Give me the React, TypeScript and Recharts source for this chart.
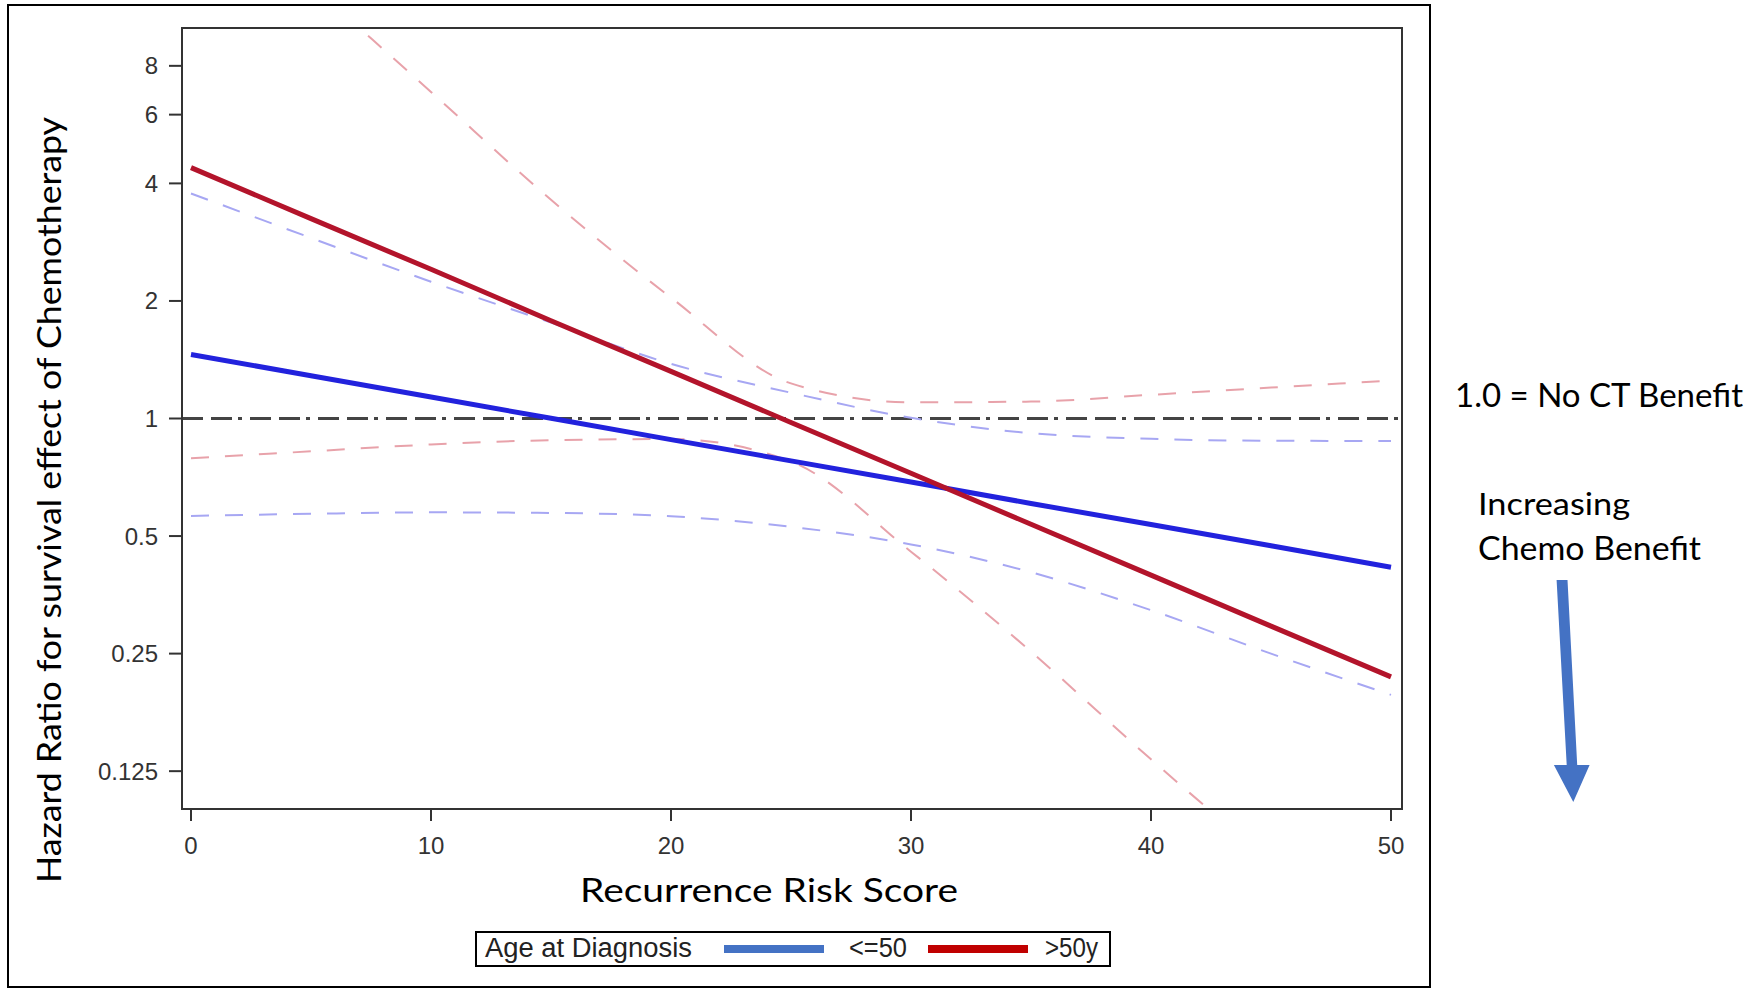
import { Legend, Line, LineChart, ReferenceLine, XAxis, YAxis } from "recharts";

// recurrence score at which each curve was read
const scores = [0, 5, 10, 15, 20, 25, 30, 35, 40, 45, 50];

// hazard ratios, age <= 50
const youngHR = [1.459, 1.287, 1.135, 1.001, 0.883, 0.779, 0.688, 0.606, 0.535, 0.472, 0.416];
const youngUpper = [3.77, 2.9, 2.24, 1.76, 1.38, 1.164, 1.004, 0.917, 0.887, 0.877, 0.876];
const youngLower = [0.563, 0.57, 0.575, 0.573, 0.562, 0.528, 0.476, 0.404, 0.323, 0.25, 0.196];

// hazard ratios, age > 50
const olderHR = [4.39, 3.25, 2.41, 1.78, 1.32, 0.977, 0.724, 0.536, 0.397, 0.294, 0.218];
const olderUpper = [24.4, 12.9, 6.86, 3.63, 2.04, 1.23, 1.1, 1.105, 1.15, 1.2, 1.25];
const olderLower = [0.791, 0.824, 0.858, 0.88, 0.886, 0.776, 0.456, 0.253, 0.134, 0.073, 0.04];

const xTicks = [0, 10, 20, 30, 40, 50];
const yTicks = [0.125, 0.25, 0.5, 1, 2, 4, 6, 8];

const groupNames = ["<=50", ">50y"];
const lineColors = ["#2222DD", "#B3142B"];
const ciColors = ["#A7A7F3", "#E8A2AA"];
const legendColors = ["#4472C4", "#C00000"];

const data = scores.map((score, i) => ({
  score,
  youngHR: youngHR[i],
  youngUpper: youngUpper[i],
  youngLower: youngLower[i],
  olderHR: olderHR[i],
  olderUpper: olderUpper[i],
  olderLower: olderLower[i],
}));

const sasFont = "'Liberation Sans', Arial, sans-serif";
const slideFont = "Lato, 'Open Sans', sans-serif";
const axisStroke = { stroke: "#333", strokeWidth: 2 };

function AgeLegend() {
  return (
    <svg width={636} height={36} style={{ display: "block" }}>
      <rect x={1} y={1} width={634} height={34} fill="#fff" stroke="#000" strokeWidth={2} />
      <text x={10} y={26} fontFamily={sasFont} fontSize={27} fill="#222" textLength={207} lengthAdjust="spacingAndGlyphs">
        Age at Diagnosis
      </text>
      <line x1={249} x2={349} y1={18} y2={18} stroke={legendColors[0]} strokeWidth={8} />
      <text x={374} y={26} fontFamily={sasFont} fontSize={27} fill="#222" textLength={58} lengthAdjust="spacingAndGlyphs">
        {groupNames[0]}
      </text>
      <line x1={453} x2={553} y1={18} y2={18} stroke={legendColors[1]} strokeWidth={8} />
      <text x={570} y={26} fontFamily={sasFont} fontSize={27} fill="#222" textLength={53} lengthAdjust="spacingAndGlyphs">
        {groupNames[1]}
      </text>
    </svg>
  );
}

export default function App() {
  return (
    <div style={{ position: "absolute", left: 0, top: 0, width: 1759, height: 988, background: "#fff" }}>
      <LineChart width={1440} height={988} data={data} margin={{ top: 28, right: 38, left: 0, bottom: 119 }}>
        <XAxis
          dataKey="score"
          type="number"
          domain={[0, 50]}
          ticks={xTicks}
          interval={0}
          padding={{ left: 9, right: 11 }}
          height={60}
          tickSize={12}
          tickMargin={16}
          tick={{ fill: "#333", fontSize: 24, fontFamily: sasFont }}
          axisLine={axisStroke}
          tickLine={axisStroke}
        />
        <YAxis
          type="number"
          scale="log"
          domain={[0.1, 10]}
          allowDataOverflow
          ticks={yTicks}
          interval={0}
          width={182}
          tickSize={13}
          tickMargin={11}
          tickFormatter={(v: number) => String(v)}
          tick={{ fill: "#333", fontSize: 24, fontFamily: sasFont }}
          axisLine={axisStroke}
          tickLine={axisStroke}
        />

        <ReferenceLine y={1} stroke="#444" strokeWidth={3} strokeDasharray="21 8 21 6 4 8" />

        <Line dataKey="youngUpper" type="monotone" stroke={ciColors[0]} strokeWidth={2} strokeDasharray="18 16" dot={false} legendType="none" isAnimationActive={false} />
        <Line dataKey="youngLower" type="monotone" stroke={ciColors[0]} strokeWidth={2} strokeDasharray="18 16" dot={false} legendType="none" isAnimationActive={false} />
        <Line dataKey="olderUpper" type="monotone" stroke={ciColors[1]} strokeWidth={2} strokeDasharray="18 16" dot={false} legendType="none" isAnimationActive={false} />
        <Line dataKey="olderLower" type="monotone" stroke={ciColors[1]} strokeWidth={2} strokeDasharray="18 16" dot={false} legendType="none" isAnimationActive={false} />
        <Line dataKey="youngHR" name={groupNames[0]} type="linear" stroke={lineColors[0]} strokeWidth={5} dot={false} isAnimationActive={false} />
        <Line dataKey="olderHR" name={groupNames[1]} type="linear" stroke={lineColors[1]} strokeWidth={5} dot={false} isAnimationActive={false} />

        <Legend
          layout="horizontal"
          verticalAlign="middle"
          align="center"
          content={() => <AgeLegend />}
          wrapperStyle={{ left: 475, top: 931, width: 636, height: 36 }}
        />
      </LineChart>

      <svg width={1759} height={988} style={{ position: "absolute", left: 0, top: 0, pointerEvents: "none" }}>
        <rect x={8} y={5} width={1422} height={982} fill="none" stroke="#000" strokeWidth={2} />
        {/* box round the plot area */}
        <rect x={182} y={28} width={1220} height={781} fill="none" stroke="#333" strokeWidth={2} />
        <text
          transform="translate(61,500) rotate(-90)"
          textAnchor="middle"
          fontFamily={slideFont}
          fontSize={33}
          fill="#000"
          textLength={766}
          lengthAdjust="spacingAndGlyphs"
        >
          Hazard Ratio for survival effect of Chemotherapy
        </text>
        <text x={769} y={902} textAnchor="middle" fontFamily={slideFont} fontSize={33} fill="#000" textLength={378} lengthAdjust="spacingAndGlyphs">
          Recurrence Risk Score
        </text>
        <text x={1455} y={407} fontFamily={slideFont} fontSize={32} fill="#000" textLength={288} lengthAdjust="spacingAndGlyphs">
          1.0 = No CT Benefit
        </text>
        <text x={1478} y={515} fontFamily={slideFont} fontSize={31} fill="#000" textLength={152} lengthAdjust="spacingAndGlyphs">
          Increasing
        </text>
        <text x={1478} y={560} fontFamily={slideFont} fontSize={32} fill="#000" textLength={223} lengthAdjust="spacingAndGlyphs">
          Chemo Benefit
        </text>
        <polygon
          points="1556.6,580 1567.5,580 1577.2,765 1589.6,765 1573.3,802 1553.9,765 1566.7,765"
          fill="#4472C4"
        />
      </svg>
    </div>
  );
}
